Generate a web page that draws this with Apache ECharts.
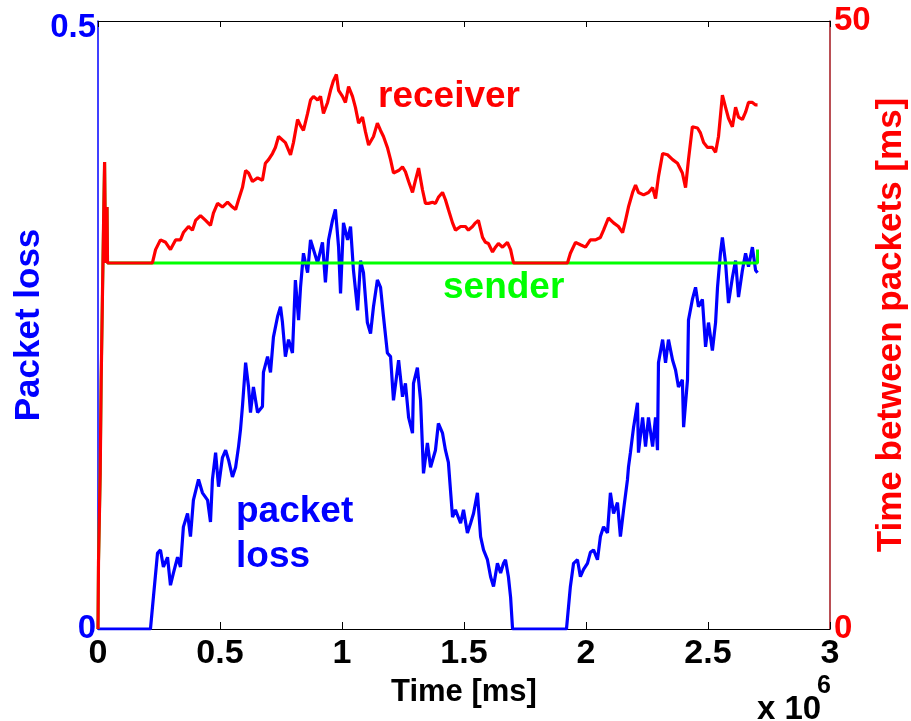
<!DOCTYPE html>
<html>
<head>
<meta charset="utf-8">
<title>Packet loss and time between packets</title>
<script src="https://cdn.jsdelivr.net/npm/echarts@6/dist/echarts.min.js"></script>
<style>
  html, body { margin: 0; padding: 0; background: #ffffff; }
  #chart { width: 911px; height: 721px; }
</style>
</head>
<body>
<div id="chart"></div>
<script>
// Time axis is in units of 10^6 ms
const xTickValues = [0, 0.5, 1, 1.5, 2, 2.5, 3];
const lossTicks = [0, 0.5];
const gapTicks = [0, 50];

// Packet loss ratio over time [t (x10^6 ms), loss]
const packetLoss = [
  [0,0],[0.215,0],[0.227,0.026],[0.244,0.0625],[0.256,0.065],[0.268,0.051],[0.285,0.059],
  [0.297,0.036],[0.309,0.046],[0.326,0.059],[0.338,0.051],[0.350,0.084],[0.367,0.095],
  [0.379,0.076],[0.391,0.106],[0.412,0.123],[0.428,0.112],[0.449,0.106],[0.461,0.088],
  [0.469,0.123],[0.482,0.145],[0.494,0.117],[0.510,0.141],[0.523,0.147],[0.535,0.139],
  [0.551,0.125],[0.564,0.133],[0.576,0.150],[0.584,0.164],[0.592,0.183],[0.605,0.219],
  [0.617,0.199],[0.625,0.178],[0.637,0.199],[0.654,0.178],[0.674,0.183],[0.678,0.211],
  [0.695,0.224],[0.707,0.211],[0.719,0.240],[0.736,0.257],[0.748,0.265],[0.756,0.252],
  [0.768,0.224],[0.781,0.238],[0.797,0.227],[0.809,0.287],[0.822,0.254],[0.830,0.281],
  [0.842,0.309],[0.859,0.293],[0.871,0.320],[0.900,0.301],[0.920,0.318],[0.932,0.285],
  [0.945,0.320],[0.961,0.336],[0.973,0.345],[0.986,0.314],[0.994,0.276],[1.006,0.334],
  [1.023,0.320],[1.035,0.331],[1.047,0.295],[1.064,0.262],[1.076,0.303],[1.088,0.293],
  [1.104,0.252],[1.117,0.243],[1.129,0.265],[1.145,0.287],[1.158,0.281],[1.170,0.257],
  [1.186,0.227],[1.199,0.224],[1.211,0.188],[1.232,0.221],[1.248,0.191],[1.260,0.202],
  [1.273,0.174],[1.289,0.161],[1.293,0.202],[1.309,0.215],[1.322,0.188],[1.334,0.128],
  [1.350,0.153],[1.363,0.133],[1.383,0.147],[1.395,0.169],[1.412,0.161],[1.424,0.147],
  [1.436,0.137],[1.453,0.092],[1.465,0.098],[1.486,0.087],[1.498,0.098],[1.514,0.079],
  [1.527,0.087],[1.539,0.095],[1.555,0.112],[1.568,0.076],[1.580,0.065],[1.596,0.057],
  [1.609,0.043],[1.621,0.035],[1.637,0.054],[1.650,0.046],[1.662,0.054],[1.670,0.057],
  [1.682,0.043],[1.691,0.026],[1.699,0],[1.920,0],[1.936,0.035],[1.949,0.054],
  [1.965,0.057],[1.977,0.043],[1.990,0.049],[2.006,0.054],[2.018,0.063],[2.031,0.065],
  [2.047,0.057],[2.059,0.076],[2.072,0.084],[2.088,0.079],[2.100,0.112],[2.113,0.095],
  [2.129,0.104],[2.141,0.076],[2.154,0.098],[2.170,0.123],[2.174,0.133],[2.182,0.145],
  [2.195,0.166],[2.211,0.186],[2.215,0.145],[2.232,0.174],[2.244,0.150],[2.256,0.174],
  [2.273,0.150],[2.285,0.174],[2.293,0.147],[2.297,0.219],[2.314,0.238],[2.326,0.219],
  [2.338,0.238],[2.355,0.221],[2.367,0.213],[2.379,0.199],[2.395,0.205],[2.400,0.166],
  [2.416,0.205],[2.420,0.254],[2.436,0.271],[2.449,0.281],[2.461,0.265],[2.477,0.271],
  [2.490,0.232],[2.502,0.252],[2.518,0.229],[2.531,0.252],[2.539,0.281],[2.551,0.309],
  [2.559,0.322],[2.572,0.301],[2.584,0.268],[2.600,0.289],[2.613,0.303],[2.625,0.273],
  [2.641,0.295],[2.654,0.309],[2.666,0.298],[2.682,0.314],[2.695,0.295],[2.703,0.293]
];

// Sender inter-packet time [t, ms]
const senderGap = [
  [0,0],[0.002,0],[0.002,5.4],[0.009,5.4],[0.009,12.8],[0.013,12.8],[0.013,20.5],
  [0.018,20.5],[0.018,27.1],[0.023,27.1],[0.023,33.6],[0.027,33.6],[0.027,38.4],
  [0.031,30.1],[0.035,30.1],[0.037,34.7],[0.039,30.1],[2.703,30.1],[2.703,31.2]
];

// Receiver inter-packet time [t, ms]
const receiverGap = [
  [0,0],[0.002,0],[0.002,5.4],[0.009,5.4],[0.009,12.8],[0.013,12.8],[0.013,20.5],
  [0.018,20.5],[0.018,27.1],[0.023,27.1],[0.023,33.6],[0.027,33.6],[0.027,38.4],
  [0.031,30.1],[0.035,30.1],[0.037,34.7],[0.039,30.1],
  [0.223,30.1],[0.236,31.2],[0.256,32.0],[0.277,31.8],[0.297,31.2],[0.318,32.0],
  [0.338,32.0],[0.350,32.6],[0.371,33.1],[0.387,32.8],[0.400,33.6],[0.420,34.0],
  [0.441,33.6],[0.461,33.2],[0.473,34.2],[0.490,35.0],[0.510,34.7],[0.531,35.1],
  [0.551,34.7],[0.564,34.5],[0.576,35.3],[0.592,36.3],[0.605,37.7],[0.617,37.5],
  [0.633,36.8],[0.654,37.1],[0.674,36.9],[0.686,38.3],[0.699,38.6],[0.715,39.1],
  [0.727,39.6],[0.740,40.5],[0.748,40.5],[0.768,40.0],[0.789,39.0],[0.801,40.0],
  [0.818,41.9],[0.830,41.4],[0.842,41.0],[0.859,42.4],[0.871,43.5],[0.883,43.8],
  [0.900,43.5],[0.912,43.8],[0.924,42.4],[0.941,43.3],[0.953,44.3],[0.965,45.1],
  [0.977,45.6],[0.986,44.3],[1.002,43.8],[1.014,43.3],[1.027,44.6],[1.043,43.8],
  [1.055,42.9],[1.068,41.6],[1.084,42.1],[1.096,40.9],[1.109,39.8],[1.129,40.5],
  [1.145,41.6],[1.158,41.0],[1.170,40.5],[1.186,39.6],[1.199,38.6],[1.211,37.5],
  [1.232,37.7],[1.248,38.0],[1.260,37.6],[1.273,36.8],[1.289,35.9],[1.301,36.9],
  [1.314,37.9],[1.330,36.1],[1.342,35.0],[1.355,35.0],[1.371,35.1],[1.383,35.0],
  [1.395,35.5],[1.412,35.9],[1.424,35.3],[1.436,34.5],[1.453,33.4],[1.465,32.8],
  [1.486,33.1],[1.506,33.1],[1.518,32.8],[1.535,33.1],[1.547,33.4],[1.559,33.6],
  [1.576,32.2],[1.588,31.8],[1.600,31.7],[1.617,31.0],[1.629,31.4],[1.641,31.7],
  [1.658,31.4],[1.678,31.8],[1.691,31.2],[1.703,30.1],[1.924,30.1],[1.936,30.9],
  [1.957,31.8],[1.977,31.6],[1.998,31.4],[2.018,32.0],[2.039,32.0],[2.059,32.2],
  [2.072,32.8],[2.092,33.8],[2.113,33.4],[2.133,33.1],[2.150,32.6],[2.162,33.6],
  [2.174,34.7],[2.191,35.9],[2.203,36.5],[2.215,35.9],[2.236,35.7],[2.256,35.9],
  [2.273,36.3],[2.285,35.4],[2.297,37.2],[2.314,39.1],[2.334,39.0],[2.355,38.6],
  [2.375,38.3],[2.395,37.5],[2.408,36.3],[2.420,38.6],[2.436,41.3],[2.457,41.2],
  [2.469,40.8],[2.482,40.0],[2.498,39.6],[2.518,39.6],[2.531,39.2],[2.543,40.5],
  [2.559,43.9],[2.572,42.9],[2.584,42.0],[2.600,41.3],[2.613,42.9],[2.625,42.1],
  [2.641,41.9],[2.654,42.5],[2.666,43.3],[2.682,43.3],[2.695,43.1],[2.703,43.1]
];

const FONT = '"Liberation Sans", Arial, Helvetica, sans-serif';
const BLUE = '#0000ff';
const RED = '#ff0000';
const GREEN = '#00ff00';

const chart = echarts.init(document.getElementById('chart'), null, { renderer: 'canvas' });

const tickFmt = v => (xTickValues.indexOf(v) >= 0 ? String(v) : '');

chart.setOption({
  animation: false,
  backgroundColor: '#ffffff',
  grid: { left: 98, right: 81, top: 21, bottom: 92, containLabel: false, outerBoundsMode: 'none' },
  xAxis: [
    {
      type: 'value', position: 'bottom', min: 0, max: 3, interval: 0.5,
      name: 'Time [ms]', nameLocation: 'middle', nameGap: 48, nameMoveOverlap: false,
      nameTextStyle: { color: '#000', fontFamily: FONT, fontWeight: 'bold', fontSize: 31 },
      axisLine: { show: true, onZero: false, lineStyle: { color: '#000', width: 1 } },
      axisTick: { show: true, inside: true, length: 7, lineStyle: { color: '#000', width: 1 } },
      axisLabel: { color: '#000', fontFamily: FONT, fontWeight: 'bold', fontSize: 34, margin: 8, formatter: tickFmt },
      splitLine: { show: false }
    },
    {
      type: 'value', position: 'top', min: 0, max: 3, interval: 0.5,
      axisLine: { show: true, onZero: false, lineStyle: { color: '#000', width: 1 } },
      axisTick: { show: true, inside: true, length: 6, lineStyle: { color: '#000', width: 1 } },
      axisLabel: { show: false },
      splitLine: { show: false }
    }
  ],
  yAxis: [
    {
      type: 'value', position: 'left', min: lossTicks[0], max: lossTicks[1], interval: 0.5,
      name: 'Packet loss', nameLocation: 'middle', nameGap: 51, nameMoveOverlap: false,
      nameTextStyle: { color: BLUE, fontFamily: FONT, fontWeight: 'bold', fontSize: 35 },
      axisLine: { show: true, onZero: false, lineStyle: { color: BLUE, width: 1.5 } },
      axisTick: { show: false },
      axisLabel: {
        color: BLUE, fontFamily: FONT, fontWeight: 'bold', fontSize: 33, margin: 2,
        formatter: v => (v === lossTicks[1] ? '{top|' + v + '}' : String(v)),
        rich: { top: { color: BLUE, fontFamily: FONT, fontWeight: 'bold', fontSize: 33, padding: [14, 0, 0, 0] } }
      },
      splitLine: { show: false }
    },
    {
      type: 'value', position: 'right', min: gapTicks[0], max: gapTicks[1], interval: 50,
      name: 'Time between packets [ms]', nameLocation: 'middle', nameGap: 44, nameRotate: 90,
      nameMoveOverlap: false,
      nameTextStyle: { color: RED, fontFamily: FONT, fontWeight: 'bold', fontSize: 35 },
      axisLine: { show: true, onZero: false, lineStyle: { color: '#a3141c', width: 1.5 } },
      axisTick: { show: false },
      axisLabel: { color: RED, fontFamily: FONT, fontWeight: 'bold', fontSize: 33, margin: 4 },
      splitLine: { show: false }
    }
  ],
  series: [
    {
      name: 'packet loss', type: 'line', xAxisIndex: 0, yAxisIndex: 0,
      data: packetLoss, showSymbol: false, symbol: 'none',
      lineStyle: { color: BLUE, width: 3.2 }, z: 2
    },
    {
      name: 'sender', type: 'line', xAxisIndex: 0, yAxisIndex: 1,
      data: senderGap, showSymbol: false, symbol: 'none',
      lineStyle: { color: GREEN, width: 3 }, z: 3
    },
    {
      name: 'receiver', type: 'line', xAxisIndex: 0, yAxisIndex: 1,
      data: receiverGap, showSymbol: false, symbol: 'none',
      lineStyle: { color: RED, width: 3.2 }, z: 4
    }
  ],
  graphic: [
    { type: 'text', left: 378, top: 78, style: { text: 'receiver', fill: RED, font: 'bold 37px ' + FONT } },
    { type: 'text', left: 443, top: 269, style: { text: 'sender', fill: GREEN, font: 'bold 37px ' + FONT } },
    { type: 'text', left: 236, top: 489, style: { text: 'packet\nloss', fill: BLUE, font: 'bold 37px ' + FONT, lineHeight: 45 } },
    { type: 'text', left: 757, top: 693, style: { text: 'x 10', fill: '#000', font: 'bold 33px ' + FONT } },
    { type: 'text', left: 817, top: 674, style: { text: '6', fill: '#000', font: 'bold 25px ' + FONT } }
  ]
});
</script>
</body>
</html>
